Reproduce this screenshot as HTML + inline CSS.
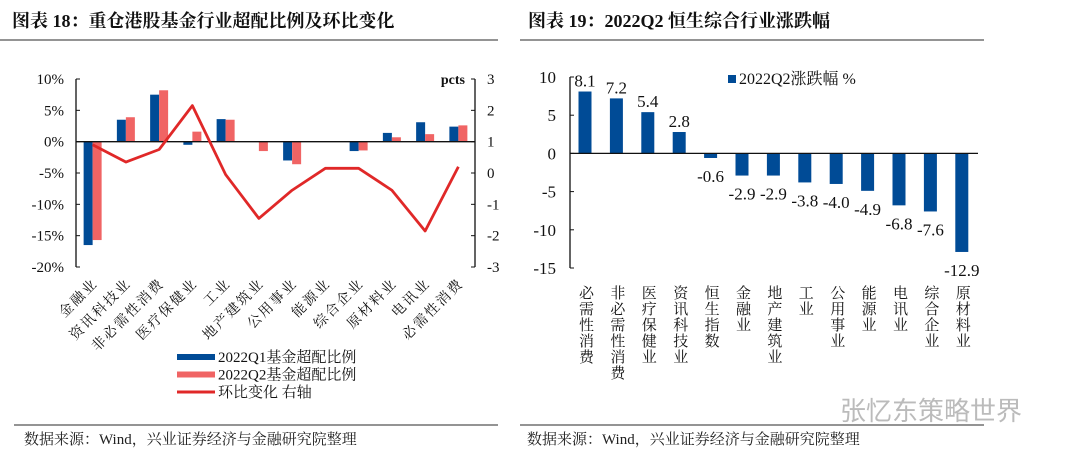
<!DOCTYPE html>
<html><head><meta charset="utf-8"><style>
body{margin:0;background:#fff;}
svg{display:block;font-family:"Liberation Serif","Noto Serif CJK SC",serif;}
</style></head><body>
<svg id="s" width="1080" height="461" viewBox="0 0 1080 461">
<text x="12" y="27" font-size="18" font-weight="bold" fill="#111">图表 18：重仓港股基金行业超配比例及环比变化</text>
<line x1="0" y1="40" x2="498" y2="40" stroke="#555" stroke-width="1.2"/>
<text x="528" y="27" font-size="18" font-weight="bold" fill="#111">图表 19：2022Q2 恒生综合行业涨跌幅</text>
<line x1="520" y1="40" x2="984" y2="40" stroke="#555" stroke-width="1.2"/>
<line x1="14" y1="425" x2="498" y2="425" stroke="#555" stroke-width="1.2"/>
<line x1="520" y1="425" x2="984" y2="425" stroke="#555" stroke-width="1.2"/>
<text x="24" y="444" font-size="15" fill="#222">数据来源：Wind，兴业证券经济与金融研究院整理</text>
<text x="527" y="444" font-size="15" fill="#222">数据来源：Wind，兴业证券经济与金融研究院整理</text>
<text x="840" y="420" font-size="26" fill="#bbb" font-family="Liberation Sans,Noto Sans CJK SC,sans-serif">张忆东策略世界</text>
<g id="left"></g>
<g id="right"></g>
</svg>
<script>
const lCats=["金融业","资讯科技业","非必需性消费","医疗保健业","工业","地产建筑业","公用事业","能源业","综合企业","原材料业","电讯业","必需性消费"];
const q1=[-16.5,3.5,7.5,-0.5,3.6,0,-3.0,0,-1.5,1.4,3.1,2.4];
const q2=[-15.7,3.9,8.2,1.6,3.5,-1.5,-3.6,0,-1.4,0.7,1.2,2.6];
const chg=[0.9,0.35,0.75,2.15,-0.05,-1.45,-0.55,0.15,0.15,-0.55,-1.85,0.2];
const lTicks=["10%","5%","0%","-5%","-10%","-15%","-20%"];
const rTicks=["3","2","1","0","-1","-2","-3"];
const hCats=["必需性消费","非必需性消费","医疗保健业","资讯科技业","恒生指数","金融业","地产建筑业","工业","公用事业","能源业","电讯业","综合企业","原材料业"];
const hVals=[8.1,7.2,5.4,2.8,-0.6,-2.9,-2.9,-3.8,-4.0,-4.9,-6.8,-7.6,-12.9];
const hTicks=[10,5,0,-5,-10,-15];
const NS="http://www.w3.org/2000/svg";
function mk(p,t,a,txt){const e=document.createElementNS(NS,t);for(const k in a)e.setAttribute(k,a[k]);if(txt!==undefined)e.textContent=txt;p.appendChild(e);return e;}
const L=document.getElementById('left');
const x0=76,x1=475,yT=79,yB=267;
const yL=v=>yT+(10-v)/30*(yB-yT);
const yR=v=>yT+(3-v)/6*(yB-yT);
const bw=(x1-x0)/lCats.length;
const cx=i=>x0+bw*(i+0.5);
let e;
e=mk(L,'line',{x1:x0,y1:yT,x2:x0,y2:yB,stroke:'#111','stroke-width':1.3});

e=mk(L,'line',{x1:x1,y1:yT,x2:x1,y2:yB,stroke:'#111','stroke-width':1.3});

lTicks.forEach((t,i)=>{const y=yT+i*(yB-yT)/6;
 e=mk(L,'line',{x1:x0,y1:y,x2:x0+4,y2:y,stroke:'#111'});
 e=mk(L,'text',{x:x0-12,y:y+5,'text-anchor':'end','font-size':15,fill:'#111'},t);});
rTicks.forEach((t,i)=>{const y=yT+i*(yB-yT)/6;
 e=mk(L,'line',{x1:x1-4,y1:y,x2:x1,y2:y,stroke:'#111'});
 e=mk(L,'text',{x:x1+12,y:y+5,'font-size':15,fill:'#111'},t);});
e=mk(L,'text',{x:465,y:84,'text-anchor':'end','font-size':14,'font-weight':'bold',fill:'#111'},'pcts');
lCats.forEach((c,i)=>{
 const a=q1[i],b=q2[i];
 e=mk(L,'rect',{x:cx(i)-9,y:Math.min(yL(0),yL(a)),width:9,height:Math.abs(yL(a)-yL(0)),fill:'#004b96'});
 e=mk(L,'rect',{x:cx(i),y:Math.min(yL(0),yL(b)),width:9,height:Math.abs(yL(b)-yL(0)),fill:'#f06464'});
 const lx=cx(i)+6,ly=284;
 e=mk(L,'text',{x:lx,y:ly,'text-anchor':'end','font-size':14,'letter-spacing':2,fill:'#111',transform:`rotate(-45 ${lx} ${ly})`},c);
});
e=mk(L,'line',{x1:x0,y1:yL(0),x2:x1,y2:yL(0),stroke:'#111','stroke-width':1.3});
e=mk(L,'polyline',{points:chg.map((v,i)=>cx(i)+','+yR(v)).join(' '),fill:'none',stroke:'#e02828','stroke-width':2.8,'stroke-linejoin':'round'});
[['#004b96','2022Q1基金超配比例',6],['#f06464','2022Q2基金超配比例',6],['#e02828','环比变化 右轴',3]].forEach((l,i)=>{const y=357+i*17.5;
 e=mk(L,'rect',{x:177,y:y-l[2]/2,width:38,height:l[2],fill:l[0]});
 e=mk(L,'text',{x:218,y:y+5,'font-size':15,fill:'#111'},l[1]);});
const R=document.getElementById('right');
const ax=570,ryT=77,ryB=268,sp=31.4,c0=585;
const ry=v=>ryT+(10-v)/25*(ryB-ryT);
e=mk(R,'line',{x1:ax,y1:ryT,x2:ax,y2:ryB,stroke:'#111','stroke-width':1.3});
hTicks.forEach(t=>{const y=ry(t);
 e=mk(R,'line',{x1:ax,y1:y,x2:ax+4,y2:y,stroke:'#111'});
 e=mk(R,'text',{x:ax-14,y:y+6,'text-anchor':'end','font-size':17,fill:'#111'},String(t));});
hCats.forEach((c,i)=>{const x=c0+i*sp,v=hVals[i];
 e=mk(R,'rect',{x:x-6.5,y:Math.min(ry(0),ry(v)),width:13,height:Math.abs(ry(v)-ry(0)),fill:'#004b96'});
 const ty=v>=0?ry(v)-5:ry(v)+24;
 e=mk(R,'text',{x:x,y:ty,'text-anchor':'middle','font-size':17,fill:'#111'},v.toFixed(1));
 e=mk(R,'text',{x:x,y:285,'font-size':15,fill:'#111','writing-mode':'tb','letter-spacing':1},c);
});
e=mk(R,'line',{x1:ax,y1:ry(0),x2:978,y2:ry(0),stroke:'#111','stroke-width':1.3});
e=mk(R,'rect',{x:728,y:75,width:8,height:8,fill:'#004b96'});
e=mk(R,'text',{x:739,y:84,'font-size':16,fill:'#111'},'2022Q2涨跌幅 %');
</script>
</body></html>
